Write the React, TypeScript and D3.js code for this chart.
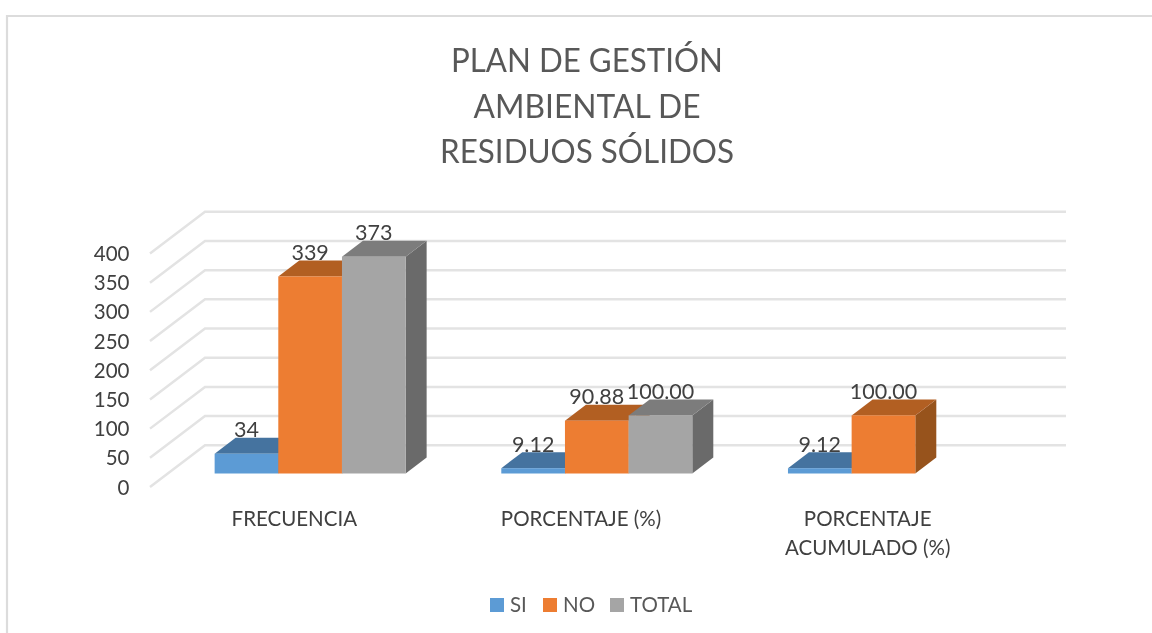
import React from "react";
import * as d3 from "d3";

const W = 1152, H = 633;
const titleLines = ["PLAN DE GESTIÓN", "AMBIENTAL DE", "RESIDUOS SÓLIDOS"];
const titleWidths = [272, 227, 294];
const categories = ["FRECUENCIA", "PORCENTAJE (%)", "PORCENTAJE|ACUMULADO (%)"];
const seriesNames = ["SI", "NO", "TOTAL"];
const siValues = [34, 9.12, 9.12];
const noValues = [339, 90.88, 100];
const totalValues: (number | null)[] = [373, 100, null];
const siLabels = ["34", "9.12", "9.12"];
const noLabels = ["339", "90.88", "100.00"];
const totalLabels = ["373", "100.00", ""];
const ticks = [0, 50, 100, 150, 200, 250, 300, 350, 400];
const front = ["#5B9BD5", "#ED7D31", "#A5A5A5"];
const top = ["#44739F", "#B25E24", "#7C7C7C"];
const side = ["#3A6288", "#97521C", "#6A6A6A"];

const FONT = "Lato, 'Open Sans', sans-serif";
const y = d3.scaleLinear().domain([0, 400]).range([487, 253.5]);
const yBar = d3.scaleLinear().domain([0, 400]).range([473.5, 241]);
const x0 = d3.scaleBand<number>().domain([0, 1, 2]).range([150, 1010]);
const barPlaneDx = 16.8;
const barDepth = { dx: 21, dy: -16 };
const back = { dx: 55, dy: -41.7 };
const groupWidth = 191;
const x1 = d3.scaleBand<number>().domain([0, 1, 2]).range([0, groupWidth]);
const pts = (p: number[][]) => p.map((q) => q.join(",")).join(" ");

export default function App() {
  const series = [siValues, noValues, totalValues];
  const labels = [siLabels, noLabels, totalLabels];
  const bars: React.ReactNode[] = [];
  const dataLabels: React.ReactNode[] = [];
  categories.forEach((_, c) => {
    const gx = x0(c)! + barPlaneDx + (x0.bandwidth() - groupWidth) / 2;
    series.forEach((vals, s) => {
      const v = vals[c];
      if (v == null) return;
      const l = gx + x1(s)!;
      const r = l + x1.bandwidth();
      const yb = yBar(0);
      const yt = yBar(v);
      const { dx, dy } = barDepth;
      bars.push(
        <g key={`${c}-${s}`}>
          <polygon points={pts([[r, yt], [r + dx, yt + dy], [r + dx, yb + dy], [r, yb]])} fill={side[s]} />
          <polygon points={pts([[l, yt], [l + dx, yt + dy], [r + dx, yt + dy], [r, yt]])} fill={top[s]} />
          <rect x={l} y={yt} width={r - l} height={yb - yt} fill={front[s]} />
        </g>
      );
      dataLabels.push(
        <text key={`${c}-${s}`} x={(l + r) / 2} y={yt - 16.5} textAnchor="middle" fontSize={21.5} fill="#404040">
          {labels[s][c]}
        </text>
      );
    });
  });
  const legendX = [490, 543, 610];
  return (
    <svg width={W} height={H} style={{ position: "absolute", left: 0, top: 0, background: "#fff" }} fontFamily={FONT}>
      <defs>
        <filter id="soft" x="0" y="0" width={W} height={H} filterUnits="userSpaceOnUse">
          <feGaussianBlur stdDeviation="0.6" />
        </filter>
      </defs>
      <g filter="url(#soft)">
        <path d={`M7,${H}V16H${W}`} fill="none" stroke="#DCDCDC" strokeWidth={2.2} />
        {ticks.map((t) => (
          <path
            key={t}
            d={`M${x0.range()[0]},${y(t)}L${x0.range()[0] + back.dx},${y(t) + back.dy}H${x0.range()[1] + back.dx + 1}`}
            fill="none"
            stroke="#E3E3E3"
            strokeWidth={2.5}
          />
        ))}
        {bars}
        {titleLines.map((t, i) => (
          <text
            key={t}
            x={587}
            y={72 + i * 45.5}
            textAnchor="middle"
            fontSize={33}
            fill="#595959"
            textLength={titleWidths[i]}
            lengthAdjust="spacingAndGlyphs"
          >
            {t}
          </text>
        ))}
        {ticks.map((t) => (
          <text key={t} x={129.5} y={y(t) + 7.5} textAnchor="end" fontSize={20.5} fill="#404040">
            {t}
          </text>
        ))}
        {dataLabels}
        {categories.map((c, i) =>
          c.split("|").map((line, j) => (
            <text key={line} x={x0(i)! + x0.bandwidth() / 2 + 1} y={525.5 + j * 29} textAnchor="middle" fontSize={20.5} fill="#404040">
              {line}
            </text>
          ))
        )}
        {seriesNames.map((n, i) => (
          <g key={n}>
            <rect x={legendX[i]} y={598} width={14} height={14} fill={front[i]} />
            <text x={legendX[i] + 20} y={612} fontSize={20.5} fill="#595959">
              {n}
            </text>
          </g>
        ))}
      </g>
    </svg>
  );
}
